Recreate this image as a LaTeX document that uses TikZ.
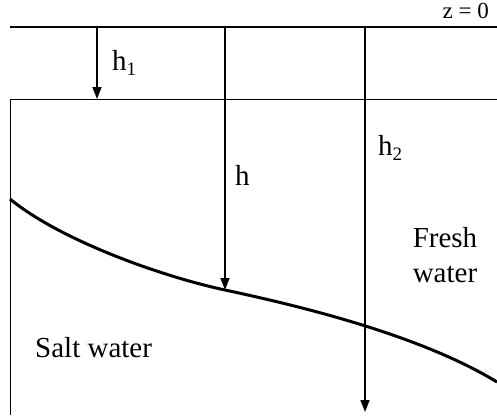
\documentclass[tikz,border=0pt]{standalone}
\usepackage{fontspec}
\setmainfont{Liberation Serif}
\usetikzlibrary{arrows.meta}
\newcommand{\lowidx}[1]{\raisebox{-0.2em}{\fontsize{19}{19}\selectfont #1}}

\begin{document}
\begin{tikzpicture}[x=1pt,y=-1pt,
  lbl/.style={font=\fontsize{29}{35}\selectfont,inner sep=0pt},
  depth/.style={-{Triangle[length=12pt,width=9pt]},line width=1.6pt},
  ground/.style={line width=1.8pt},
  wall/.style={line width=0.9pt},
  iface/.style={line width=3pt}]

  \useasboundingbox (0,0) rectangle (497,415);

  % surface and aquifer outline
  \coordinate (zl) at (10,27);
  \coordinate (zr) at (497,27);
  \coordinate (wb) at (10,415);
  \coordinate (wt) at (10,99);
  \coordinate (wr) at (497,99);
  \draw[ground] (zl)--(zr);
  \draw[wall] (wb)--(wt)--(wr);

  % interface
  \coordinate (i0) at (10,199);
  \coordinate (i1) at (225,290);
  \coordinate (i2) at (497,382);
  \draw[iface] (i0) .. controls (60,240) and (160,276) .. (i1)
                    .. controls (300,306) and (420,335) .. (i2);

  % depths
  \coordinate (s1) at (97,27);
  \coordinate (e1) at (97,99);
  \coordinate (s0) at (225,27);
  \coordinate (s2) at (365,27);
  \coordinate (e2) at (365,412);
  \draw[depth] (s1)--(e1);
  \draw[depth] (s0)--(i1);
  \draw[depth] (s2)--(e2);

  \node[lbl,anchor=base west] (H1) at (112,70) {h\lowidx{1}};
  \node[lbl,anchor=base west] (H0) at (235,185) {h};
  \node[lbl,anchor=base west] (H2) at (378,155) {h\lowidx{2}};
  \node[lbl,anchor=base] (FR) at (445,247) {Fresh};
  \node[lbl,anchor=base] (WA) at (445,282) {water};
  \node[lbl,anchor=base west] (SW) at (35,357) {Salt water};
  \node[font=\fontsize{23}{23}\selectfont,inner sep=0pt,anchor=base east] (Z0)
    at (489,18) {z = 0};
\end{tikzpicture}
\end{document}
